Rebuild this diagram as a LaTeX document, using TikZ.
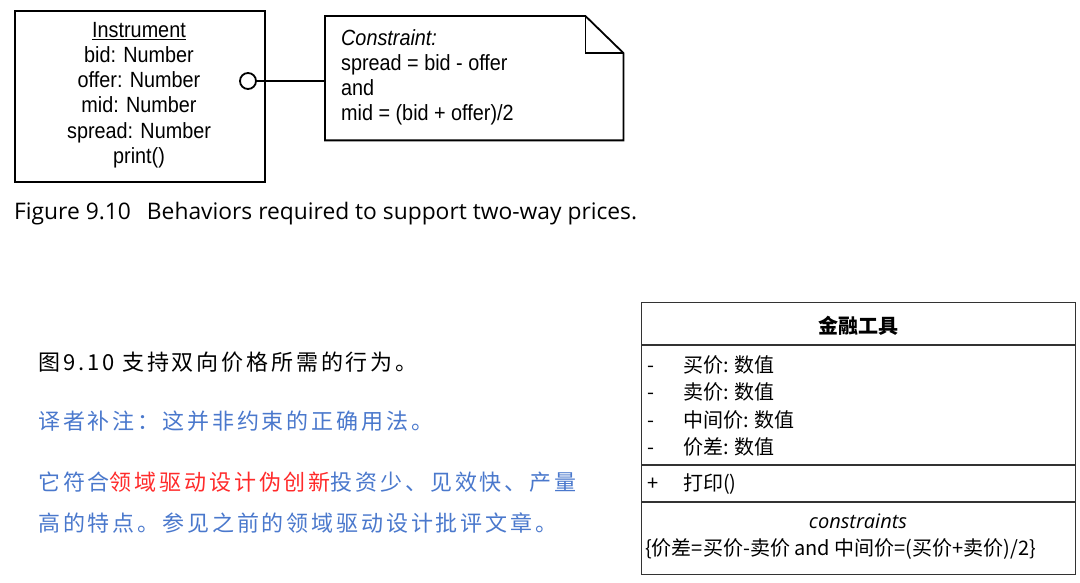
\documentclass[tikz,border=0pt]{standalone}
\usepackage{fontspec}
\setmainfont{Liberation Sans}
\newfontfamily\condsans[FakeStretch=0.9]{Liberation Sans}
\newfontfamily\cjk{Noto Sans CJK SC}
\newfontfamily\cjkwide[LetterSpace=13]{Noto Sans CJK SC}
\newfontfamily\capfont{Open Sans}
\newfontfamily\umlit{Open Sans}
\definecolor{noteblue}{HTML}{4A78CC}
\definecolor{notered}{HTML}{FF2A2A}
\definecolor{umlgray}{HTML}{333333}
\newcommand{\vis}[1]{\makebox[36pt][l]{#1}}
\begin{document}
\begin{tikzpicture}[x=1pt,y=-1pt,
  fig/.style={line width=1.8pt, black},
  umlline/.style={line width=1.4pt, umlgray},
  figtext/.style={font=\fontsize{22}{25.2}\condsans, inner sep=0pt},
  cntext/.style={font=\fontsize{22}{26}\cjkwide, anchor=west, inner sep=0pt},
  umltext/.style={font=\fontsize{20}{24}\cjk, anchor=west, inner sep=0pt}]
\useasboundingbox (0,0) rectangle (1080,583);
% Instrument class
\node[fig, draw, minimum width=250pt, minimum height=171pt, anchor=north west] (inst) at (14,10) {};
\node[figtext, align=center] (insttext) at (139,95) {\underline{Instrument}\\bid: Number\\offer: Number\\mid: Number\\spread: Number\\print()};
\node[fig, draw, circle, minimum size=16pt, inner sep=0pt] (circ) at (248,81) {};
% note
\node[minimum width=298pt, minimum height=124pt, anchor=north west, inner sep=0pt] (note) at (325,16) {};
\draw[fig, line join=miter] (note.north west) -- ([xshift=-38pt]note.north east) -- ([yshift=-37pt]note.north east) -- (note.south east) -- (note.south west) -- cycle;
\draw[fig, line join=miter] ([xshift=-38pt]note.north east) -- ([xshift=-38pt,yshift=-37pt]note.north east) -- ([yshift=-37pt]note.north east);
\node[figtext, align=left, anchor=north west] (notetext) at (341,29) {\textit{Constraint:}\\spread = bid - offer\\and\\mid = (bid + offer)/2};
\draw[fig] (circ.east) -- (circ.east -| note.west);
% caption
\node[font=\fontsize{22.8}{26}\capfont, anchor=west, inner sep=0pt] (caption) at (14,214) {Figure 9.10\hspace{16pt}Behaviors required to support two-way prices.};
% Chinese notes
\node[cntext] (cn1) at (38,362) {图9.10 支持双向价格所需的行为。};
\node[cntext, noteblue] (cn2) at (38,421) {译者补注：这并非约束的正确用法。};
\node[cntext, noteblue] (cn3) at (38,482) {它符合\textcolor{notered}{领域驱动设计伪创新}投资少、见效快、产量};
\node[cntext, noteblue] (cn4) at (38,523) {高的特点。参见之前的领域驱动设计批评文章。};
% UML class
\node[umlline, draw, minimum width=434pt, minimum height=272pt, anchor=north west] (uml) at (641,302) {};
\coordinate (s1) at (641,345);
\coordinate (s2) at (641,465);
\coordinate (s3) at (641,502);
\draw[umlline] (s1) -- (s1 -| uml.east);
\draw[umlline] (s2) -- (s2 -| uml.east);
\draw[umlline] (s3) -- (s3 -| uml.east);
\node[font=\fontsize{20}{24}\cjk\bfseries, inner sep=0pt] (umlhead) at (858,326) {金融工具};
\node[umltext] (a1) at (647,365) {\vis{-}买价: 数值};
\node[umltext] (a2) at (647,392) {\vis{-}卖价: 数值};
\node[umltext] (a3) at (647,420) {\vis{-}中间价: 数值};
\node[umltext] (a4) at (647,447) {\vis{-}价差: 数值};
\node[umltext] (op1) at (647,484) {\vis{+}打印()};
\node[font=\fontsize{20}{24}\umlit\itshape, inner sep=0pt] (cons) at (858,521) {constraints};
\node[umltext] (cexpr) at (645,549) {\{价差=买价-卖价 and 中间价=(买价+卖价)/2\}};
\end{tikzpicture}
\end{document}
